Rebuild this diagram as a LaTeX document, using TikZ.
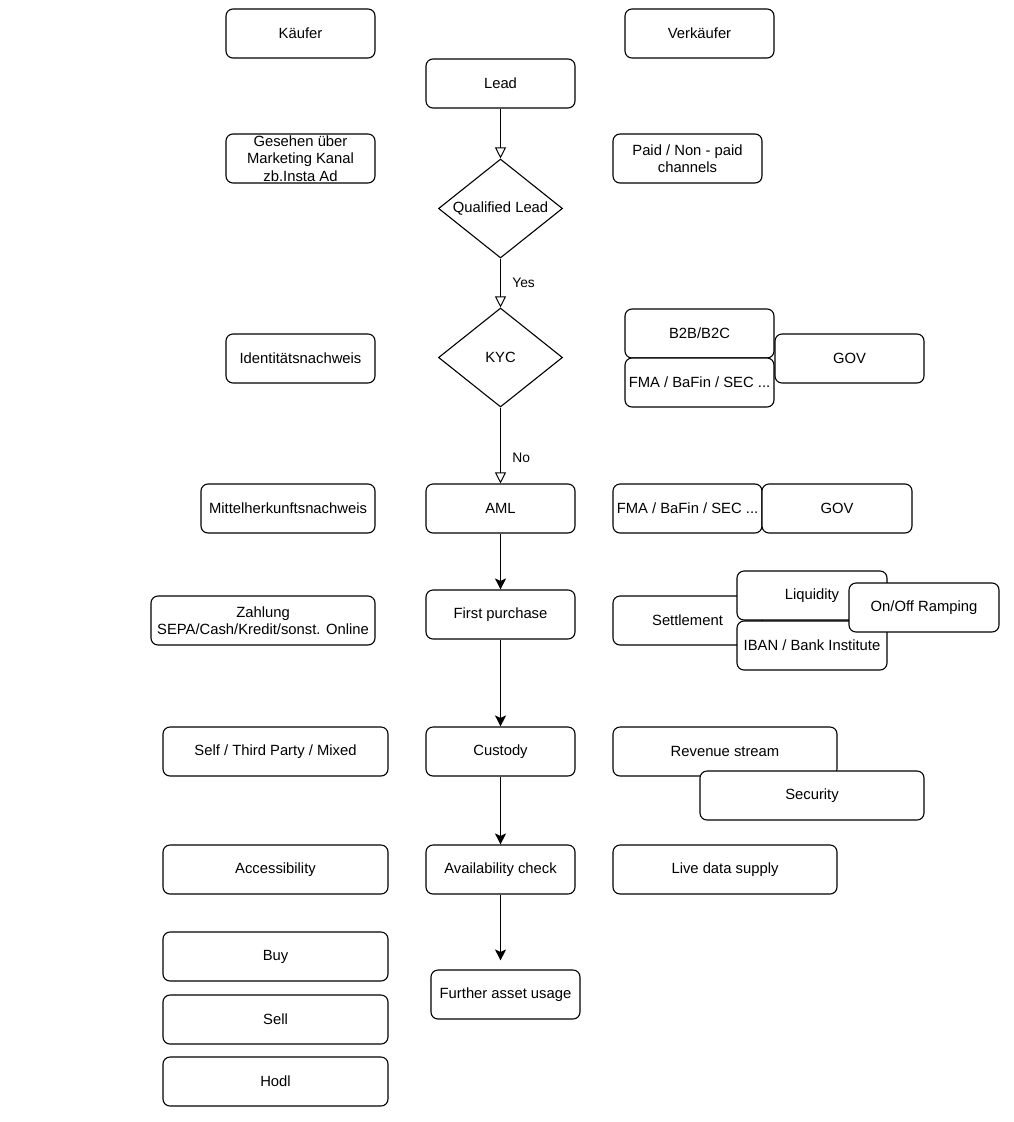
\documentclass[tikz,border=0pt]{standalone}
\usepackage{fontspec}
\setmainfont{Liberation Sans}
\usetikzlibrary{shapes.geometric,arrows.meta}
\begin{document}
\begin{tikzpicture}[x=1pt,y=-1pt,
  every node/.style={font=\fontsize{14.8}{17.5}\selectfont},
  box/.style={draw, line width=1.1pt, rounded corners=7pt, fill=white, align=center,
     minimum height=49pt, minimum width=149pt, inner sep=1pt},
  dia/.style={draw, line width=1.1pt, shape=diamond, aspect=1.25, fill=white,
     minimum width=124pt, minimum height=99pt, inner sep=0pt},
  openarr/.style={draw, line width=1pt, -{Triangle[open, length=11pt, width=11pt]}},
  fillarr/.style={draw, line width=1pt, -{Stealth[inset=2.5pt, length=11pt, width=11pt]}},
  lbl/.style={font=\fontsize{13.8}{16}\selectfont}
]
\useasboundingbox (0,0) rectangle (1014,1122);
\fill[white] (0,0) rectangle (1014,1122);

\node[box] (kaeufer) at (300.5,33.5) {Käufer};
\node[box] (verkaeufer) at (699.5,33.5) {Verkäufer};
\node[box] (lead) at (500.5,83.5) {Lead};
\node[box] (gesehen) at (300.5,158.5) {Gesehen über\\Marketing Kanal\\zb.Insta Ad};
\node[box] (paid) at (687.5,158.5) {Paid / Non - paid\\channels};
\node[dia] (ql) at (500.5,208.5) {Qualified Lead};
\node[dia] (kyc) at (500.5,357.5) {KYC};
\node[box] (ident) at (300.5,358.5) {Identitätsnachweis};
\node[box] (b2b) at (699.5,333.5) {B2B/B2C};
\node[box] (fma) at (699.5,382.5) {FMA / BaFin / SEC ...};
\node[box] (gov) at (849.5,358.5) {GOV};
\node[box] (aml) at (500.5,508.5) {AML};
\node[box, minimum width=174pt] (mittel) at (288,508.5) {Mittelherkunftsnachweis};
\node[box] (fma2) at (687.5,508.5) {FMA / BaFin / SEC ...};
\node[box, minimum width=150pt] (gov2) at (837,508.5) {GOV};
\node[box] (first) at (500.5,614.5) {First purchase};
\node[box, minimum width=224pt] (zahlung) at (263,620.5) {Zahlung\\SEPA/Cash/Kredit/sonst. Online};
\node[box] (settlement) at (687.5,620.5) {Settlement};
\node[box, minimum width=150pt] (liquidity) at (812,595.5) {Liquidity};
\node[box, minimum width=150pt] (iban) at (812,645.5) {IBAN / Bank Institute};
\node[box, minimum width=150pt] (onoff) at (924,607.5) {On/Off Ramping};
\node[box] (custody) at (500.5,751.5) {Custody};
\node[box, minimum width=225pt] (self) at (275.5,751.5) {Self / Third Party / Mixed};
\node[box, minimum width=224pt] (revenue) at (725,751.5) {Revenue stream};
\node[box, minimum width=224pt] (security) at (812,795.5) {Security};
\node[box] (avail) at (500.5,869.5) {Availability check};
\node[box, minimum width=225pt] (access) at (275.5,869.5) {Accessibility};
\node[box, minimum width=224pt] (live) at (725,869.5) {Live data supply};
\node[box] (further) at (505.5,994.5) {Further asset usage};
\node[box, minimum width=225pt] (buy) at (275.5,956.5) {Buy};
\node[box, minimum width=225pt] (sell) at (275.5,1019.5) {Sell};
\node[box, minimum width=225pt] (hodl) at (275.5,1081.5) {Hodl};

\draw[openarr] (lead.south) -- (ql.north);
\draw[openarr] (ql.south) -- node[lbl, right, xshift=8pt, pos=0.5] (yes) {Yes} (kyc.north);
\draw[openarr] (kyc.south) -- node[lbl, right, xshift=8pt, pos=0.66] (no) {No} (aml.north);
\draw[fillarr] (aml.south) -- (first.north);
\draw[fillarr] (first.south) -- (custody.north);
\draw[fillarr] (custody.south) -- (avail.north);
\draw[fillarr, shorten >=9pt] (avail.south) -- (avail.south |- further.north);
\end{tikzpicture}
\end{document}
